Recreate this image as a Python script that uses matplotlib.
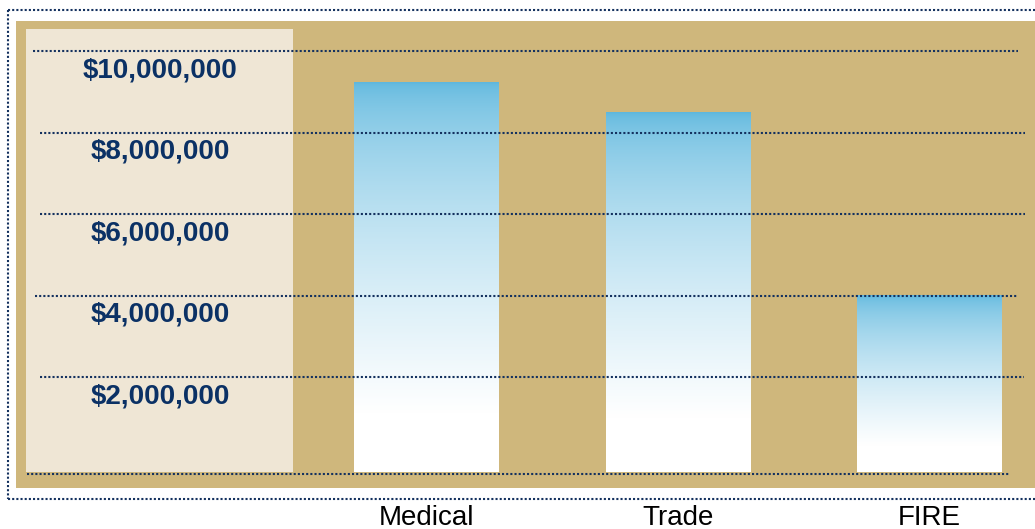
import numpy as np
import matplotlib.pyplot as plt
from matplotlib.patches import Rectangle
from matplotlib.lines import Line2D

# data
categories = ['Medical', 'Trade', 'FIRE']
values = [9_600_000, 8_880_000, 4_370_000]
tick_values = [2_000_000, 4_000_000, 6_000_000, 8_000_000, 10_000_000]
tick_labels = ['$2,000,000', '$4,000,000', '$6,000,000', '$8,000,000', '$10,000,000']

W, H = 1035, 529
fig = plt.figure(figsize=(W / 100, H / 100), dpi=100)
fig.patch.set_facecolor('white')

navy = '#14315f'
tan = '#cfb77c'
cream = '#efe6d5'
label_col = '#0b3165'
top_col = np.array([0.37, 0.72, 0.87])


def fx(px):
    return px / W


def fy(py):
    return 1 - py / H


# axes covers the tan area
ax_l, ax_r, ax_t, ax_b = 16, 1035, 21, 488
ax = fig.add_axes([fx(ax_l), fy(ax_b), fx(ax_r) - fx(ax_l), fy(ax_t) - fy(ax_b)])
ax.set_facecolor(tan)
for s in ax.spines.values():
    s.set_visible(False)

# pixel <-> data mapping
y0_px = 474
per_px = 1_000_000 / 40.75
x0_px, step_px = 426.5, 251.5


def dx(px):
    return (px - x0_px) / step_px


def dy(py):
    return (y0_px - py) * per_px


# cream panel behind the labels
ax.add_patch(Rectangle((fx(26), fy(472)), fx(293) - fx(26), fy(29) - fy(472),
                       transform=fig.transFigure, facecolor=cream,
                       edgecolor='none', zorder=0.5))

# gradient bars (they stop just above the dotted baseline)
bw = 145 / step_px
n = 256
t = np.linspace(0, 1, n)
f = np.clip(t / 0.85, 0, 1) ** 0.6
grad = top_col[None, :] * (1 - f[:, None]) + f[:, None]
grad = grad[:, None, :]
for i, v in enumerate(values):
    ax.imshow(grad, extent=[i - bw / 2, i + bw / 2, 2 * per_px, v], aspect='auto',
              origin='upper', interpolation='bilinear', zorder=2)

# dotted gridlines, drawn a little above each label
grid_off = 15.5 * per_px
grid_starts = {0: 27, 2_000_000: 40, 4_000_000: 35, 6_000_000: 40,
               8_000_000: 40, 10_000_000: 33}
grid_ends = {0: 1010, 2_000_000: 1024, 4_000_000: 1018, 6_000_000: 1025,
             8_000_000: 1025, 10_000_000: 1018}
for v in [0] + tick_values:
    yv = v + grid_off if v else 0
    ax.plot([dx(grid_starts[v]), dx(grid_ends[v])], [yv, yv], color=navy,
            lw=1.5, linestyle=(0, (1, 1)), zorder=3, solid_capstyle='butt')

# value labels
for v, lab in zip(tick_values, tick_labels):
    ax.text(dx(160), v - 3.5 * per_px, lab, ha='center', va='center',
            fontsize=20, fontweight='bold', color=label_col,
            family='Liberation Sans', zorder=4)

ax.set_xticks(range(len(categories)), categories, fontsize=20,
              family='Liberation Sans')
ax.tick_params(axis='x', length=0, pad=12)
ax.set_yticks([])
ax.set_xlim(dx(ax_l), dx(ax_r))
ax.set_ylim(dy(ax_b), dy(ax_t))

# dotted outer frame
fl, ft, fb = 7.5, 9.5, 498.5
for xs, ys in [([fl, W], [ft, ft]), ([fl, fl], [ft, fb]), ([fl, W], [fb, fb])]:
    fig.add_artist(Line2D([fx(x) for x in xs], [fy(y) for y in ys],
                          transform=fig.transFigure, color=navy, lw=1.5,
                          linestyle=(0, (1, 1))))

fig.savefig('out.png', dpi=100)
